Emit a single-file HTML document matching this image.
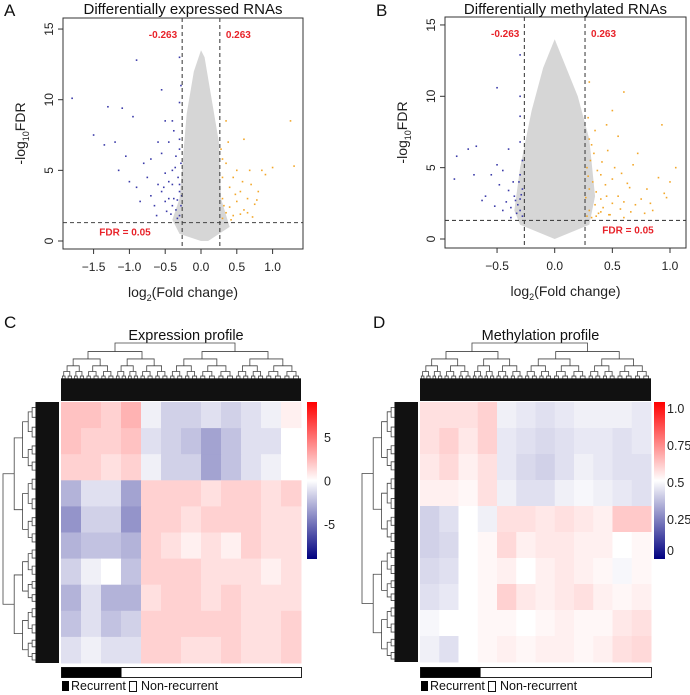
<!DOCTYPE html>
<html><head><meta charset="utf-8"><style>
body{margin:0;background:#fff}
svg{display:block;font-family:"Liberation Sans",Arial,sans-serif}
</style></head><body>
<svg id="fig" width="690" height="695" viewBox="0 0 690 695"></svg>
<script>
// ---------- Data ----------
const aTicksX=[-1.5,-1.0,-0.5,0.0,0.5,1.0];
const bTicksX=[-0.5,0.0,0.5,1.0];
const yTicks=[0,5,10,15];
const fcCut=0.263, fdrLine=1.3;
const aCloudLX=[0,-0.3,-0.4,-0.3,-0.25,-0.2,-0.1,0], aCloudLY=[0,0.5,1.5,3,6,9,12,13.5];
const aCloudRX=[0.05,0.15,0.25,0.28,0.4,0.1], aCloudRY=[13,10,7,3,1,0];
const bCloudLX=[0,-0.3,-0.35,-0.3,-0.2,-0.1,0], bCloudLY=[0,1,2,5,9,12,14];
const bCloudRX=[0.05,0.2,0.3,0.35,0.3], bCloudRY=[13,10,7,3,1];
const aBlueX=[-0.3,-0.35,-0.4,-0.45,-0.5,-0.55,-0.6,-0.3,-0.32,-0.28,-0.35,-0.4,-0.45,-0.5,-0.65,-0.7,-0.75,-0.8,-0.85,-0.9,-1.0,-1.05,-1.15,-1.2,-1.35,-0.3,-0.38,-0.5,-0.55,-0.9,-1.8,-1.3,-0.3,-0.6,-0.28,-0.33,-0.42,-0.48,-0.38,-0.3,-0.36,-0.55,-0.7,-0.3,-0.45,-0.62,-1.5,-1.1,-0.95,-0.4,-0.3,-0.28,-0.33,-0.4,-0.52,-0.27];
const aBlueY=[1.8,2.2,2.5,3,2.8,3.5,4,3.5,4.5,5.5,6,5,4.2,4.8,2.5,3.2,4.5,5.5,2.8,3.8,4.2,6,5,7,6.8,7.2,7.8,8.5,10.7,12.8,10.1,9.5,9.8,7,2.5,1.6,1.9,2.1,3,4,5.2,6.2,5.8,6.5,7,1.8,7.5,9.4,8.8,8.5,13,11,2.9,4,3.8,3.2];
const aOrX=[0.3,0.35,0.4,0.45,0.5,0.55,0.6,0.65,0.7,0.75,0.8,0.85,0.3,0.3,0.35,0.4,0.45,0.5,0.28,0.38,0.6,0.9,1.0,0.35,1.25,1.3,0.32,0.42,0.55,0.65,0.72,0.48,0.58,0.68,0.3,0.78];
const aOrY=[1.6,2,2.4,1.8,2.8,3.5,2.2,3,4,2.6,3.5,5,3,4.5,5.5,3.8,4.5,5,6.5,7,7.2,4.7,5.2,8.5,8.5,5.3,2.5,1.5,1.9,2,1.7,3.3,4.2,5,5.8,2.9];
const bBlueX=[-0.28,-0.3,-0.32,-0.3,-0.35,-0.28,-0.33,-0.38,-0.4,-0.42,-0.36,-0.3,-0.45,-0.5,-0.48,-0.55,-0.6,-0.7,-0.75,-0.68,-0.85,-0.87,-0.63,-0.4,-0.3,-0.3,-0.3,-0.3,-0.5,-0.28,-0.34,-0.38,-0.45,-0.52,-0.29,-0.31];
const bBlueY=[1.6,2,2.4,2.8,3,3.5,1.8,2.2,3.4,2.6,4,4.5,4.8,5.2,3.8,4.5,3,4.5,6.3,6.5,5.8,4.2,2.7,6.3,6.8,8.6,10,12.9,10.6,5.5,2.7,1.5,2,2.3,3.1,4];
const bOrX=[0.28,0.3,0.32,0.35,0.38,0.4,0.42,0.45,0.48,0.5,0.3,0.33,0.36,0.4,0.44,0.5,0.55,0.6,0.65,0.7,0.28,0.31,0.34,0.37,0.41,0.46,0.52,0.58,0.63,0.68,0.75,0.8,0.85,0.9,0.95,1.0,1.05,0.3,0.35,0.29,0.32,0.45,0.55,0.6,0.72,0.83,0.93,0.3,0.5,0.4,0.27,0.29,0.6,0.78,0.97,0.36,0.47,0.57,0.66];
const bOrY=[1.6,2,1.5,2.4,1.8,2.8,2.2,3,1.7,2.5,3.5,4,3.3,4.5,3.8,4.2,3,2.6,3.6,2.4,5,5.5,6,4.8,5.4,6.2,5,4.6,3.9,5.2,2.8,3.5,2,4.3,3.2,4,5,7,7.6,8.5,6.6,8,7.2,10.3,6,2.5,8,11,9,1.9,2.9,4.4,1.5,1.8,2.9,1.6,1.7,2.1,1.9];
const cVals=[
[0.4,0.4,0.3,0.5,-0.1,-0.3,-0.3,-0.2,-0.3,-0.2,-0.1,0.1],
[0.4,0.3,0.3,0.4,-0.2,-0.3,-0.4,-0.6,-0.4,-0.2,-0.2,0],
[0.3,0.3,0.2,0.3,-0.1,-0.3,-0.3,-0.6,-0.4,-0.2,-0.1,0],
[-0.5,-0.2,-0.2,-0.6,0.3,0.3,0.3,0.2,0.3,0.3,0.2,0.3],
[-0.7,-0.3,-0.3,-0.7,0.3,0.3,0.2,0.3,0.3,0.3,0.2,0.2],
[-0.5,-0.4,-0.4,-0.5,0.3,0.2,0.1,0.2,0.1,0.3,0.2,0.2],
[-0.3,-0.1,0,-0.4,0.3,0.3,0.3,0.2,0.2,0.2,0.1,0.2],
[-0.5,-0.2,-0.5,-0.5,0.2,0.3,0.3,0.2,0.3,0.2,0.2,0.2],
[-0.4,-0.2,-0.4,-0.3,0.3,0.3,0.3,0.3,0.3,0.2,0.2,0.3],
[-0.2,-0.1,-0.2,-0.2,0.3,0.3,0.2,0.2,0.3,0.2,0.2,0.3]];
const dVals=[
[0.2,0.2,0.2,0.3,-0.1,-0.15,-0.2,-0.15,-0.1,-0.1,-0.1,-0.15],
[0.2,0.3,0.15,0.3,-0.15,-0.2,-0.25,-0.2,-0.15,-0.15,-0.2,-0.15],
[0.15,0.25,0.1,0.2,-0.15,-0.25,-0.3,-0.2,-0.1,-0.15,-0.2,-0.2],
[0.1,0.1,0.05,0.2,-0.1,-0.2,-0.2,-0.1,-0.05,-0.1,-0.15,-0.2],
[-0.3,-0.2,0,-0.1,0.2,0.2,0.15,0.2,0.15,0.1,0.35,0.35],
[-0.3,-0.25,0,0.05,0.25,0.1,0.15,0.15,0.1,0.1,0,0.05],
[-0.25,-0.2,0,0.05,0.1,0,0.1,0.15,0.1,0.05,-0.05,0.05],
[-0.2,-0.15,0,0.05,0.3,0.15,0.1,0.15,0.2,0.1,0.05,0.1],
[-0.05,0,0,0.05,0.05,0,0.05,0.1,0.05,0.05,0.15,0.2],
[-0.1,-0.2,0,0.05,0.1,0.05,0.1,0.1,0.05,0.1,0.2,0.25]];
const cBarLabels=["5","0","-5"], cBarVals=[5,0,-5];
const dBarLabels=["1.0","0.75","0.5","0.25","0"], dBarVals=[1,0.75,0.5,0.25,0];
const recurrentFracC=0.25, recurrentFracD=0.26;

// ---------- Helpers ----------
const S=document.getElementById('fig'), NS='http://www.w3.org/2000/svg';
function el(tag,attrs,parent,text){const e=document.createElementNS(NS,tag);for(const k in attrs)e.setAttribute(k,attrs[k]);if(text!==undefined)e.textContent=text;(parent||S).appendChild(e);return e;}
function grp(name){const g=el('g',{},S);return g;}
function col(v){v=Math.max(-1,Math.min(1,v));if(v>=0){const c=Math.round(255*(1-v));return `rgb(255,${c},${c})`;}const t=-v;return `rgb(${Math.round(255*(1-t))},${Math.round(255*(1-t))},${Math.round(255-127*t)})`;}

function volcano(o){
  const g=grp(o.name);
  const sx=v=>o.x0+(v-o.xa)*o.kx, sy=v=>o.y0-v*o.ky;
  let pts=[];o.lx.forEach((v,i)=>pts.push(sx(v)+','+sy(o.ly[i])));o.rx.forEach((v,i)=>pts.push(sx(v)+','+sy(o.ry[i])));
  const cl=el('polygon',{points:pts.join(' '),fill:'#d6d6d6'},g);
  
  o.bx.forEach((v,i)=>{const c=el('rect',{x:sx(v)-0.8,y:sy(o.by[i])-0.8,width:1.6,height:1.6,fill:'#3a3aa8'},g);});
  o.ox.forEach((v,i)=>{const c=el('rect',{x:sx(v)-0.8,y:sy(o.oy[i])-0.8,width:1.6,height:1.6,fill:'#f2a72a'},g);});
  [-fcCut,fcCut].forEach(v=>{const l=el('line',{x1:sx(v),x2:sx(v),y1:o.top,y2:o.bot,stroke:'#444','stroke-dasharray':'4,3','stroke-width':1.1},g);});
  const hl=el('line',{x1:o.left,x2:o.right,y1:sy(fdrLine),y2:sy(fdrLine),stroke:'#444','stroke-dasharray':'4,3','stroke-width':1.1},g);
  const bx=el('rect',{x:o.left,y:o.top,width:o.right-o.left,height:o.bot-o.top,fill:'none',stroke:'#333','stroke-width':1},g);
  o.xt.forEach(v=>{el('line',{x1:sx(v),x2:sx(v),y1:o.bot,y2:o.bot+5,stroke:'#333'},g);const t=el('text',{x:sx(v),y:o.bot+22,'font-size':12,'text-anchor':'middle',fill:'#222'},g,(v<0?'\u2212':'')+Math.abs(v).toFixed(1));});
  yTicks.forEach(v=>{el('line',{x1:o.left-5,x2:o.left,y1:sy(v),y2:sy(v),stroke:'#333'},g);const t=el('text',{x:o.left-10,y:sy(v),'font-size':12,'text-anchor':'middle',fill:'#222',transform:`rotate(-90 ${o.left-10} ${sy(v)})`},g,String(v));});
  const xt=el('text',{x:(o.left+o.right)/2,y:o.bot+48,'font-size':14,'text-anchor':'middle',fill:'#222'},g);
  xt.innerHTML='log<tspan font-size="9" dy="4">2</tspan><tspan dy="-4">(Fold change)</tspan>';
  const cy=(o.top+o.bot)/2, ax=o.left-38;
  const yt=el('text',{x:ax,y:cy,'font-size':14,'text-anchor':'middle',fill:'#222',transform:`rotate(-90 ${ax} ${cy})`},g);
  yt.innerHTML='-log<tspan font-size="9" dy="4">10</tspan><tspan dy="-4">FDR</tspan>';
  const ti=el('text',{x:(o.left+o.right)/2,y:14,'font-size':15,'text-anchor':'middle',fill:'#111'},g,o.title);
  const pl=el('text',{x:o.letterX,y:16,'font-size':17,fill:'#111'},g,o.letter);
  const r1=el('text',{x:sx(-fcCut)-5,y:o.top+20,'font-size':10,'font-weight':'bold','text-anchor':'end',fill:'#e8232a'},g,'-0.263');
  const r2=el('text',{x:sx(fcCut)+6,y:o.top+20,'font-size':10,'font-weight':'bold',fill:'#e8232a'},g,'0.263');
  const r3=el('text',{x:o.fdrX,y:sy(fdrLine)+13,'font-size':10,'font-weight':'bold','text-anchor':'middle',fill:'#e8232a'},g,'FDR = 0.05');
}
volcano({name:'volcano-expression',letter:'A',letterX:4,title:'Differentially expressed RNAs',left:63,right:303,top:18,bot:249,x0:201,xa:0,kx:71.6,y0:241,ky:14.13,xt:aTicksX,
 lx:aCloudLX,ly:aCloudLY,rx:aCloudRX,ry:aCloudRY,bx:aBlueX,by:aBlueY,ox:aOrX,oy:aOrY,fdrX:125});
volcano({name:'volcano-methylation',letter:'B',letterX:376,title:'Differentially methylated RNAs',left:445,right:686,top:17,bot:248,x0:554.7,xa:0,kx:115.3,y0:239,ky:14.27,xt:bTicksX,
 lx:bCloudLX,ly:bCloudLY,rx:bCloudRX,ry:bCloudRY,bx:bBlueX,by:bBlueY,ox:bOrX,oy:bOrY,fdrX:628});

function dendroTop(g,x0,x1,yTop,yLeaf){
  const levels=[0,0.15,0.28,0.4,0.5,0.58,0.64];
  function rec(a,b,d){const y=yTop+(yLeaf-yTop)*levels[d];
    if(d>=levels.length-1)return;
    const s=a+(b-a)*(d%2?0.5:0.45);const c1=(a+s)/2,c2=(s+b)/2;const yc=yTop+(yLeaf-yTop)*levels[d+1];
    el('path',{d:`M${c1},${yc}V${y}H${c2}V${yc}`,fill:'none',stroke:'#444','stroke-width':0.8},g);rec(a,s,d+1);rec(s,b,d+1);}
  rec(x0,x1,0);
  el('rect',{x:x0,y:yTop+(yLeaf-yTop)*0.62,width:x1-x0,height:(yLeaf-yTop)*0.38+1,fill:'#111'},g);
}
function dendroLeft(g,y0,y1,xLeft,xLeaf){
  const levels=[0,0.2,0.35,0.45,0.52,0.58];
  function rec(a,b,d){const x=xLeft+(xLeaf-xLeft)*levels[d];
    if(d>=levels.length-1)return;const s=a+(b-a)*(d%2?0.5:0.55);const c1=(a+s)/2,c2=(s+b)/2;const xc=xLeft+(xLeaf-xLeft)*levels[d+1];
    el('path',{d:`M${xc},${c1}H${x}V${c2}H${xc}`,fill:'none',stroke:'#444','stroke-width':0.8},g);rec(a,s,d+1);rec(s,b,d+1);}
  rec(y0,y1,0);
  el('rect',{x:xLeft+(xLeaf-xLeft)*0.58,y:y0,width:(xLeaf-xLeft)*0.42,height:y1-y0,fill:'#111'},g);
}

function heat(o){
  const g=grp(o.name);
  const rows=o.vals.length, cols=o.vals[0].length, cw=(o.x1-o.x0)/cols, rh=(o.y1-o.y0)/rows;
  o.vals.forEach((row,r)=>row.forEach((v,c)=>{const e=el('rect',{x:o.x0+c*cw,y:o.y0+r*rh,width:cw+0.5,height:rh+0.5,fill:col(v*o.gain)},g);}));
  const dt=grp(o.name+'-column-dendrogram');dendroTop(dt,o.x0,o.x1,343,400);
  const dl=grp(o.name+'-row-dendrogram');dendroLeft(dl,o.y0,o.y1,o.dlX,o.x0-2);
  const defs=el('defs',{},g);const lg=el('linearGradient',{id:o.name+'-grad',x1:0,y1:0,x2:0,y2:1},defs);
  el('stop',{offset:'0','stop-color':'#ff0000'},lg);el('stop',{offset:'0.5','stop-color':'#ffffff'},lg);el('stop',{offset:'1','stop-color':'#000080'},lg);
  const cb=el('rect',{x:o.cbX,y:o.y0,width:o.cbW,height:157,fill:`url(#${o.name}-grad)`},g);
  o.barVals.forEach((v,i)=>{const y=o.y0+157*(1-(v-o.bmin)/(o.bmax-o.bmin));const t=el('text',{x:o.cbX+o.cbW+o.lblDx,y:Math.min(o.y0+153,Math.max(o.y0+9,y+5)),'font-size':12.5,fill:'#222'},g,o.barLabels[i]);});
  const ti=el('text',{x:(o.x0+o.x1)/2+5,y:340,'font-size':14.5,'text-anchor':'middle',fill:'#111'},g,o.title);
  const pl=el('text',{x:o.letterX,y:328,'font-size':17,fill:'#111'},g,o.letter);
  const w=o.x1-o.x0;
  const ab=el('rect',{x:o.x0+0.5,y:667.5,width:w,height:10,fill:'#fff',stroke:'#222'},g);
  const rb=el('rect',{x:o.x0+0.5,y:667.5,width:w*o.frac,height:10,fill:'#000'},g);
  const l1=el('rect',{x:o.x0+1,y:681,width:7,height:10,fill:'#000'},g);
  const t1=el('text',{x:o.x0+10,y:690,'font-size':12.5,fill:'#111'},g,'Recurrent');
  const l2=el('rect',{x:o.x0+68.5,y:681.5,width:7,height:10,fill:'#fff',stroke:'#111'},g);
  const t2=el('text',{x:o.x0+80,y:690,'font-size':12.5,fill:'#111'},g,'Non-recurrent');
}
heat({name:'expression-heatmap',letter:'C',letterX:4,title:'Expression profile',vals:cVals,gain:0.6,x0:61,x1:301,y0:402,y1:663,dlX:3,cbX:307,cbW:10,lblDx:7,barVals:cBarVals,barLabels:cBarLabels,bmin:-9,bmax:9,frac:recurrentFracC});
heat({name:'methylation-heatmap',letter:'D',letterX:373,title:'Methylation profile',vals:dVals,gain:0.6,x0:420,x1:651,y0:402,y1:662,dlX:362,cbX:654,cbW:11,lblDx:2,barVals:dBarVals,barLabels:dBarLabels,bmin:-0.02,bmax:1.04,frac:recurrentFracD});
</script>
</body></html>
